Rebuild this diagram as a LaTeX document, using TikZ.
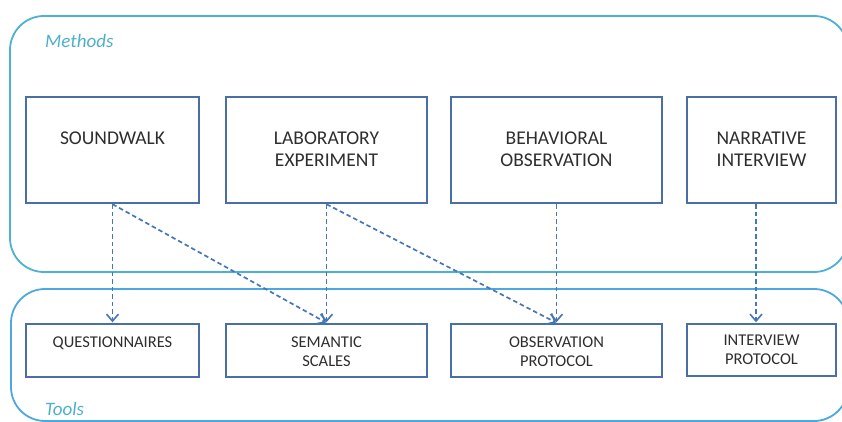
\documentclass[tikz,border=0pt]{standalone}
\usepackage{fontspec}
\setmainfont{Carlito}
\usetikzlibrary{arrows.meta,calc}
\definecolor{boxblue}{HTML}{4A6EA6}
\definecolor{txtgray}{HTML}{2E2E2E}
\definecolor{methblue}{HTML}{4DB2D2}
\definecolor{toolblue}{HTML}{4AA9DE}
\definecolor{arrblue}{HTML}{4676B8}
\definecolor{lbl}{HTML}{4FAFCB}
\tikzset{
  mbox/.style={draw=boxblue,line width=2.4pt,inner sep=0pt,minimum height=106pt},
  tbox/.style={draw=boxblue,line width=2.4pt,inner sep=0pt,minimum height=53pt},
  mtext/.style={text=txtgray,font=\fontsize{19.5}{22}\selectfont,align=center,inner sep=0pt,anchor=base},
  ttext/.style={text=txtgray,font=\fontsize{16.5}{19.5}\selectfont,align=center,inner sep=0pt,anchor=base},
  frame/.style={line width=1.8pt,rounded corners=34pt},
  lab/.style={text=lbl,font=\fontsize{19}{22}\selectfont\itshape,inner sep=0pt,anchor=base west},
  conn/.style={draw=arrblue,line width=1.7pt,dash pattern=on 4.5pt off 3pt,-{Straight Barb[length=7pt,width=12pt,line width=1.6pt]},shorten >=0.5pt}
}
\begin{document}
\begin{tikzpicture}[x=1pt,y=-1pt]
\useasboundingbox (0,0) rectangle (842,422);
\clip (0,0) rectangle (842,422);
% frames
\draw[frame,draw=methblue] (10,16) rectangle (848,272);
\draw[frame,draw=toolblue] (11,289) rectangle (848,421);
\node[lab] (meth) at (45,48) {Methods};
\node[lab] (tools) at (45,415) {Tools};
% method boxes
\node[mbox,minimum width=173pt] (sw) at (112.5,150) {};
\node[mbox,minimum width=201pt] (labx) at (326.5,150) {};
\node[mbox,minimum width=211pt] (beh) at (556.5,150) {};
\node[mbox,minimum width=149pt] (nar) at (761.5,150) {};
\node[mtext] (swt) at (112.5,145) {SOUNDWALK};
\node[mtext] (labt) at (326.5,167) {LABORATORY\\EXPERIMENT};
\node[mtext] (beht) at (556.5,167) {BEHAVIORAL\\OBSERVATION};
\node[mtext] (nart) at (761.5,167) {NARRATIVE\\INTERVIEW};
% tool boxes
\node[tbox,minimum width=173pt] (q) at (112.5,350.5) {};
\node[tbox,minimum width=201pt] (sem) at (326.5,350.5) {};
\node[tbox,minimum width=211pt] (obs) at (556.5,350.5) {};
\node[tbox,minimum width=149pt,minimum height=52pt] (int) at (761.5,350) {};
\node[ttext] (qt) at (112.5,347) {QUESTIONNAIRES};
\node[ttext] (semt) at (326.5,366.5) {SEMANTIC\\SCALES};
\node[ttext] (obst) at (556.5,366.5) {OBSERVATION\\PROTOCOL};
\node[ttext] (intt) at (761.5,364.5) {INTERVIEW\\PROTOCOL};
% connectors
\draw[conn] (sw.south) -- (q.north);
\draw[conn] (sw.south) -- (sem.north);
\draw[conn] (labx.south) -- (sem.north);
\draw[conn] (labx.south) -- (obs.north);
\draw[conn] (beh.south) -- (obs.north);
\draw[conn] ($(nar.south)+(-5.5,0)$) -- ($(int.north)+(-5.5,0)$);
\end{tikzpicture}
\end{document}
